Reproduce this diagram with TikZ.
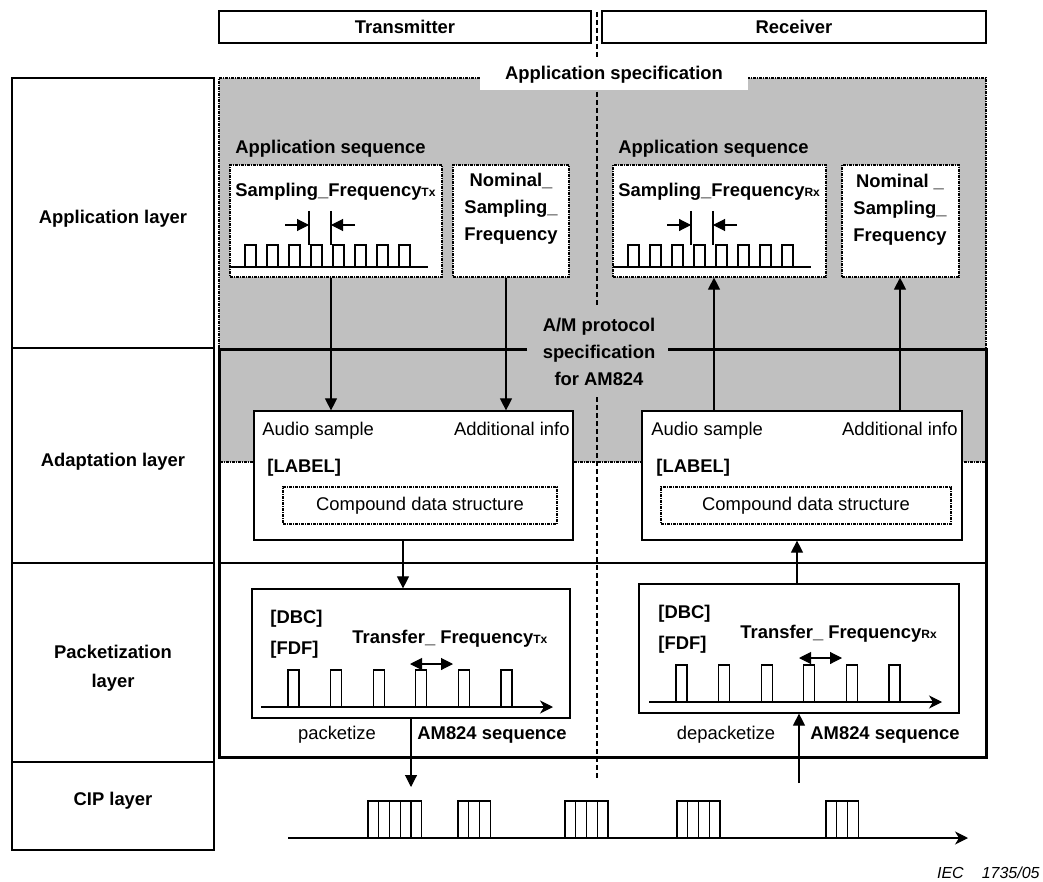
\documentclass[tikz,border=0pt]{standalone}
\usepackage{fontspec}
\setmainfont{Liberation Sans}
\usetikzlibrary{positioning}
\usetikzlibrary{arrows.meta}
\definecolor{appgray}{HTML}{C0C0C0}

\begin{document}
\begin{tikzpicture}[x=0.5pt,y=-0.5pt,>={Triangle[length=6pt,width=6pt]}]
		\tikzset{
			textnode/.style={text=black,inner sep=0pt,font=\fontsize{9.2}{13.5}\selectfont\bfseries},
			plainnode/.style={text=black,inner sep=0pt,font=\fontsize{9.2}{13.5}\selectfont},
		}
		\tikzset{
			edge/.style={color=black,line width=0.55pt},
			thinbox/.style={draw,line width=0.6pt,fill=white,inner sep=0pt},
			dotbox/.style={thinbox,dash pattern=on 1.5pt off 0.5pt on 0.5pt off 0.5pt},
			layerbox/.style={thinbox,minimum width=101pt,outer sep=0pt},
			axis/.style={edge,-{Stealth[length=6.5pt,width=6.5pt,inset=2pt]}},
		}
		\newcommand{\sub}[1]{{\fontsize{6}{7}\selectfont #1}}
		
		\useasboundingbox (0,0) rectangle (1043,882);
		
		% shaded application area
		\fill[appgray] (219,78) rectangle (986,462);
		\draw[edge,dash pattern=on 1.5pt off 0.5pt on 0.5pt off 0.5pt] (219,462) -- (219,78) -- (986,78) -- (986,462) -- cycle;
		
		% transmitter / receiver split
		\draw[edge,dash pattern=on 2.5pt off 1.5pt] (597,12) -- (597,308);
		\draw[edge,dash pattern=on 2.5pt off 1.5pt] (597,397) -- (597,780);
		
		\node[textnode,fill=white,minimum width=134pt,minimum height=15pt] (appSpec) at (614,75) {Application specification};
		
		% A/M protocol box
		\draw[line width=1.5pt] (527,349) -- (219,349) -- (219,757) -- (986,757) -- (986,349) -- (668,349);
		\draw[edge] (219,563) -- (986,563);
		\node[textnode,align=center] (amSpec) at (599,352) {A/M protocol\\specification\\for AM824};
		
		\node[thinbox,textnode,minimum width=186pt,minimum height=16pt] (tx) at (405,27) {Transmitter};
		\node[thinbox,textnode,minimum width=192pt,minimum height=16pt] (rx) at (794,27) {Receiver};
		
		\node[layerbox,minimum height=135pt,label={[textnode,yshift=-3pt]center:Application layer}] (appLayer) at (113,213) {};
		\node[layerbox,minimum height=107.5pt,below=0pt of appLayer,label={[textnode,yshift=-3pt]center:Adaptation layer}] (adaLayer) {};
		\node[layerbox,minimum height=99.5pt,below=0pt of adaLayer,label={[textnode,align=center,font=\fontsize{9.2}{14.5}\selectfont\bfseries,yshift=-3pt]center:{Packetization\\layer}}] (pckLayer) {};
		\node[layerbox,minimum height=44pt,below=0pt of pckLayer,label={[textnode,yshift=2.5pt]center:CIP layer}] (cipLayer) {};
		
		% transmitter side
		\node[textnode,anchor=base west] (seqTx) at (235,153.5) {Application sequence};
		\node[dotbox,minimum width=106pt,minimum height=56pt] (sampTx) at (336,221) {};
		\node[dotbox,minimum width=58pt,minimum height=56pt] (nomTx) at (511,221) {};
		\node[textnode,anchor=base west] (sfTx) at (235,196.5) {Sampling\_Frequency\sub{Tx}};
		\node[textnode,align=center] (nomTxt) at (511,209) {Nominal\_\\Sampling\_\\Frequency};
		
		\node[thinbox,minimum width=159.5pt,minimum height=64.5pt] (adaTx) at (413.5,475.5) {};
		\node[plainnode,anchor=base west] (audTx) at (262,435.5) {Audio sample};
		\node[plainnode,anchor=base east] (addTx) at (570,435.5) {Additional info};
		\node[textnode,anchor=base west] (lblTx) at (267,472.5) {[LABEL]};
		\node[dotbox,plainnode,minimum width=137pt,minimum height=18.5pt] (cmpTx) at (420,505.5) {Compound data structure};
		
		\node[thinbox,minimum width=159pt,minimum height=64.5pt] (pckTx) at (411,653.5) {};
		\node[textnode,anchor=base west] (dbcTx) at (270,623.5) {[DBC]};
		\node[textnode,anchor=base west] (fdfTx) at (270,654.5) {[FDF]};
		\node[textnode,anchor=base west] (tfTx) at (352,643.5) {Transfer\_ Frequency\sub{Tx}};
		\node[plainnode,anchor=base] (pktz) at (337,739.5) {packetize};
		\node[textnode,anchor=base west] (seqAmTx) at (417,739.5) {AM824 sequence};
		
		% receiver side
		\node[textnode,anchor=base west] (seqRx) at (618,153.5) {Application sequence};
		\node[dotbox,minimum width=106.5pt,minimum height=56pt] (sampRx) at (719.5,221) {};
		\node[dotbox,minimum width=58.5pt,minimum height=56pt] (nomRx) at (900.5,221) {};
		\node[textnode,anchor=base west] (sfRx) at (618,196.5) {Sampling\_Frequency\sub{Rx}};
		\node[textnode,align=center] (nomRxt) at (900,210) {Nominal \_\\Sampling\_\\Frequency};
		
		\node[thinbox,minimum width=160pt,minimum height=64.5pt] (adaRx) at (802,475.5) {};
		\node[plainnode,anchor=base west] (audRx) at (651,435.5) {Audio sample};
		\node[plainnode,anchor=base east] (addRx) at (958,435.5) {Additional info};
		\node[textnode,anchor=base west] (lblRx) at (656,472.5) {[LABEL]};
		\node[dotbox,plainnode,minimum width=145pt,minimum height=18.5pt] (cmpRx) at (806,505.5) {Compound data structure};
		
		\node[thinbox,minimum width=160pt,minimum height=64.5pt] (pckRx) at (799,648.5) {};
		\node[textnode,anchor=base west] (dbcRx) at (658,618.5) {[DBC]};
		\node[textnode,anchor=base west] (fdfRx) at (658,649.5) {[FDF]};
		\node[textnode,anchor=base west] (tfRx) at (740,638.5) {Transfer\_ Frequency\sub{Rx}};
		\node[plainnode,anchor=base] (dpktz) at (726,739.5) {depacketize};
		\node[textnode,anchor=base west] (seqAmRx) at (810,739.5) {AM824 sequence};
		
		% sample pulses
		\foreach \i in {0,...,7} {
			\draw[edge] (245+22*\i,267) rectangle ++(11,-22);
			\draw[edge] (628+22*\i,267) rectangle ++(11,-22);
		}
		\draw[edge] (230,267) -- (428,267);
		\draw[edge] (613,267) -- (811,267);
		\draw[edge] (309,211) -- (309,245);
		\draw[edge] (331,211) -- (331,245);
		\draw[->,edge] (285,225) -- (309,225);
		\draw[->,edge] (355,225) -- (331,225);
		\draw[edge] (691,211) -- (691,245);
		\draw[edge] (713,211) -- (713,245);
		\draw[->,edge] (667,225) -- (691,225);
		\draw[->,edge] (737,225) -- (713,225);
		
		% packet pulses
		\foreach \i in {0,...,5} {
			\draw[edge] (288+42.6*\i,707) rectangle ++(11,-37);
			\draw[edge] (676+42.6*\i,702) rectangle ++(11,-37);
		}
		\draw[axis] (261,707) -- (553,707);
		\draw[axis] (649,702) -- (942,702);
		\draw[<->,edge] (410,664) -- (453,664);
		\draw[<->,edge] (799,658) -- (842,658);
		
		% CIP packets
		\foreach \x/\n in {368/5,458/3,565/4,677/4,826/3} {
			\foreach \k in {1,...,\n}
				\draw[edge] (\x+10.75*\k-10.75,838) rectangle ++(10.75,-37);
		}
		\draw[axis] (288,838) -- (968,838);
		\coordinate (cipTx) at (411,787);
		\coordinate (cipRx) at (799,783);
		
		\draw[->,edge] ([xshift=-2.5pt]sampTx.south) -- ([xshift=-41.25pt]adaTx.north);
		\draw[->,edge] ([xshift=-2.5pt]nomTx.south) -- ([xshift=46.25pt]adaTx.north);
		\draw[->,edge] ([xshift=-5.25pt]adaTx.south) -- ([xshift=-4pt]pckTx.north);
		\draw[->,edge] (pckTx.south) -- (cipTx);
		\draw[->,edge] ([xshift=-44pt]adaRx.north) -- ([xshift=-2.75pt]sampRx.south);
		\draw[->,edge] ([xshift=49pt]adaRx.north) -- ([xshift=-0.25pt]nomRx.south);
		\draw[->,edge] ([xshift=-1pt]pckRx.north) -- ([xshift=-2.5pt]adaRx.south);
		\draw[->,edge] (cipRx) -- (pckRx.south);
		
		\node[plainnode,font=\fontsize{8}{10}\selectfont\itshape,anchor=base east] (iecNo) at (1040,878) {IEC\hspace{9pt}1735/05};
	\end{tikzpicture}
\end{document}
